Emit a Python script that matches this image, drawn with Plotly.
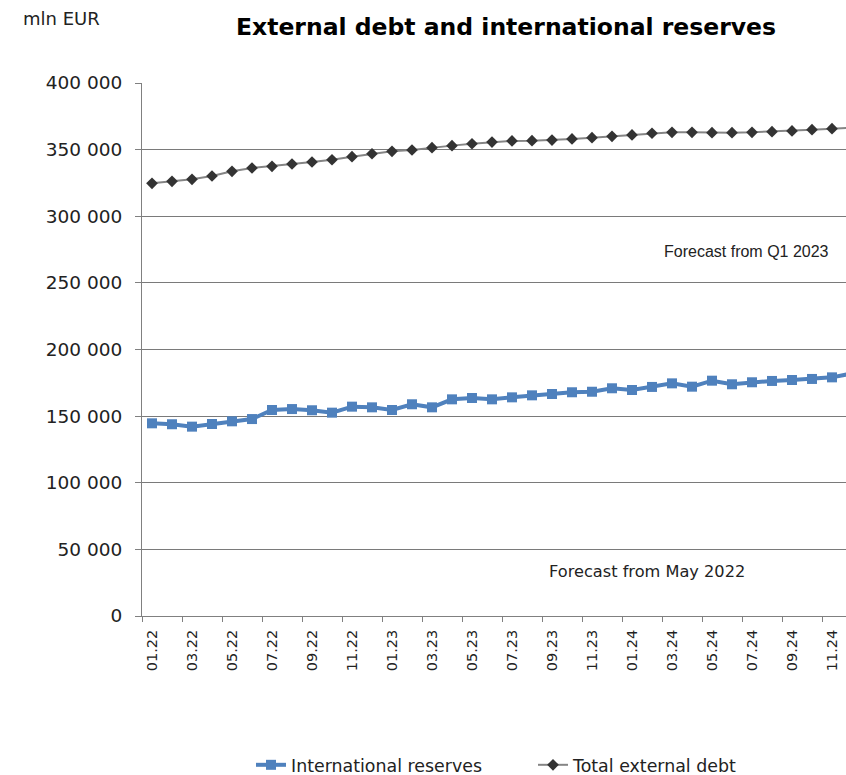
import plotly.graph_objects as go

# Monthly observations, January 2022 - December 2024 (mln EUR)
months = [f"{m:02d}.{y}" for y in (22, 23, 24) for m in range(1, 13)]

international_reserves = [
    144.6, 143.9, 142.1, 144.1, 146.1, 147.8, 154.6, 155.3, 154.4, 152.6,
    157.1, 156.6, 154.6, 158.9, 156.6, 162.6, 163.6, 162.6, 164.1, 165.6,
    166.6, 167.9, 168.3, 170.9, 169.6, 171.9, 174.6, 172.1, 176.6, 173.9,
    175.4, 176.4, 177.1, 177.9, 179.1, 182.0,
]
international_reserves = [v * 1000 for v in international_reserves]

total_external_debt = [
    324.7, 326.2, 327.7, 330.2, 333.7, 336.2, 337.5, 339.2, 340.7, 342.4,
    344.7, 346.9, 348.7, 349.7, 351.5, 353.0, 354.4, 355.7, 356.5, 356.7,
    357.2, 358.0, 359.0, 360.0, 361.0, 362.3, 363.0, 363.0, 362.7, 362.7,
    363.0, 363.5, 364.0, 365.0, 365.7, 366.5,
]
total_external_debt = [v * 1000 for v in total_external_debt]

y_ticks = list(range(0, 400001, 50000))
y_tick_text = ["0" if v == 0 else f"{v // 1000} 000" for v in y_ticks]

x_idx = list(range(len(months)))
label_idx = x_idx[::2]
label_text = months[::2]

W, H = 846, 775
L, R, T, B = 142, 0, 83, 159
plot_w = W - L - R
plot_h = H - T - B
cat_px = 20  # width of one month on the category axis


def px_x(px):
    return (px - L) / plot_w


def px_y(py):
    return (H - B - py) / plot_h


fig = go.Figure()

fig.add_trace(go.Scatter(
    x=x_idx, y=international_reserves, name="International reserves",
    mode="lines+markers",
    line=dict(color="#4F81BD", width=4),
    marker=dict(symbol="square", size=10, color="#4F81BD"),
    cliponaxis=True,
))
fig.add_trace(go.Scatter(
    x=x_idx, y=total_external_debt, name="Total external debt",
    mode="lines+markers",
    line=dict(color="#858585", width=2),
    marker=dict(symbol="diamond", size=9, color="#333333"),
    cliponaxis=True,
))

fig.update_xaxes(
    type="linear",
    range=[-0.5, -0.5 + plot_w / cat_px],
    tickmode="array", tickvals=label_idx, ticktext=label_text,
    tickangle=-90, ticks="", ticklabelstandoff=7,
    tickfont=dict(family="DejaVu Sans", size=14.5, color="#222222"),
    showgrid=False, zeroline=False,
    showline=True, linecolor="#808080", linewidth=1,
    minor=dict(tick0=-0.5, dtick=2, ticks="outside", ticklen=5,
               tickcolor="#808080", showgrid=False),
)
fig.update_yaxes(
    range=[0, 400000],
    tickmode="array", tickvals=y_ticks, ticktext=y_tick_text,
    ticks="outside", ticklen=6, tickcolor="#808080",
    ticklabelstandoff=9,
    tickfont=dict(family="DejaVu Sans", size=18.5, color="#222222"),
    showgrid=True, gridcolor="#7a7a7a", gridwidth=1,
    zeroline=False,
    showline=True, linecolor="#808080", linewidth=1,
)

fig.add_annotation(
    text="Forecast from Q1 2023", xref="paper", yref="paper",
    x=px_x(831), y=px_y(252), xanchor="right", yanchor="middle",
    showarrow=False,
    font=dict(family="Liberation Sans", size=16, color="#222222"),
)
fig.add_annotation(
    text="Forecast from May 2022", xref="paper", yref="paper",
    x=px_x(647), y=px_y(571), xanchor="center", yanchor="middle",
    showarrow=False,
    font=dict(family="DejaVu Sans", size=16.2, color="#222222"),
)
fig.add_annotation(
    text="mln EUR", xref="paper", yref="paper",
    x=px_x(21), y=px_y(19), xanchor="left", yanchor="middle",
    showarrow=False,
    font=dict(family="DejaVu Sans", size=18, color="#222222"),
)

fig.update_layout(
    width=W, height=H,
    margin=dict(l=L, r=R, t=T, b=B, autoexpand=False),
    paper_bgcolor="white", plot_bgcolor="white",
    title=dict(
        text="<b>External debt and international reserves</b>",
        xref="container", yref="container",
        x=506 / W, y=1 - 27 / H, xanchor="center", yanchor="middle",
        font=dict(family="DejaVu Sans", size=23.5, color="#000000"),
    ),
    showlegend=True,
    legend=dict(
        orientation="h", xref="paper", yref="paper",
        x=px_x(251), y=px_y(765), xanchor="left", yanchor="middle",
        font=dict(family="DejaVu Sans", size=17.4, color="#222222"),
        entrywidth=237, entrywidthmode="pixels",
        bgcolor="rgba(0,0,0,0)",
    ),
)

fig.write_html("out.html")
